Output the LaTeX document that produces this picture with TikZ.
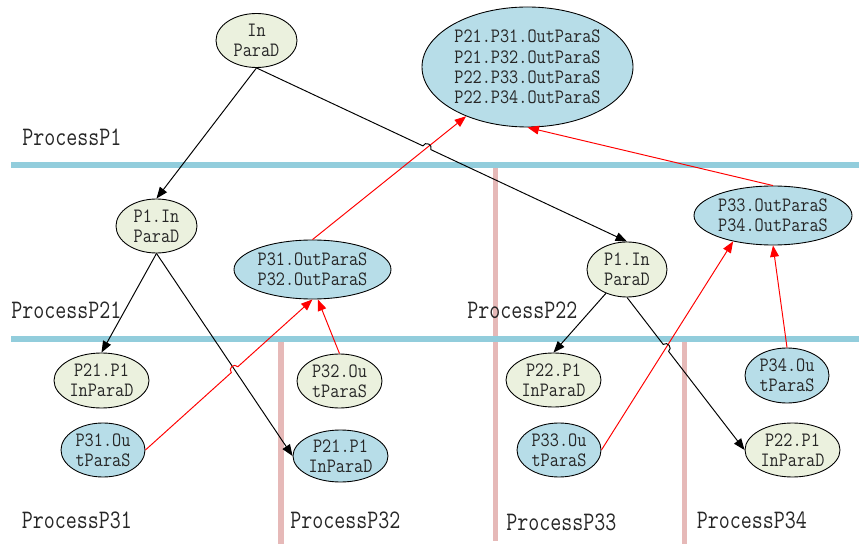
\documentclass[tikz,border=0pt]{standalone}
\usepackage{fontspec}
\usetikzlibrary{arrows.meta,shapes.geometric,calc,intersections}
\newfontfamily\parafont[FakeStretch=0.87]{Latin Modern Mono}
\newfontfamily\lanefont[FakeStretch=0.8]{Latin Modern Mono}
\definecolor{inpgreen}{HTML}{EBF1DE}
\definecolor{outblue}{HTML}{B7DDE8}
\definecolor{laneblue}{HTML}{92CDDC}
\definecolor{lanepink}{HTML}{E6B9B8}
\definecolor{txtgray}{HTML}{262626}

\tikzset{
  para/.style={ellipse,draw=black,line width=0.5pt,inner sep=0pt,align=center,
    text=txtgray,font=\parafont\fontsize{11.6}{11.6}\selectfont},
  parain/.style={para,fill=inpgreen},
  paraout/.style={para,fill=outblue},
  lane/.style={text=txtgray,font=\lanefont\fontsize{15.2}{16}\selectfont,
    anchor=west,inner sep=0pt},
  dflow/.style={black,line width=0.55pt,-{Triangle[length=6.5pt,width=5pt]}},
  sflow/.style={red,line width=0.55pt,-{Triangle[length=6.5pt,width=5pt]}},
  hop/.style={bend left=90,looseness=1.6}
}

\begin{document}
\begin{tikzpicture}[x=1cm,y=1cm]
  \useasboundingbox (0,0) rectangle (17.18,10.88);

  % --- swimlane separators ---
  \fill[lanepink] (9.86,0.06) rectangle (9.96,7.52);
  \fill[lanepink] (5.56,0)    rectangle (5.68,4.04);
  \fill[lanepink] (13.64,0)   rectangle (13.74,4.04);
  \fill[laneblue] (0.22,7.52) rectangle (17.18,7.64);
  \fill[laneblue] (0.22,4.04) rectangle (17.18,4.16);

  % --- lane titles ---
  \node[lane] (tP1)  at (0.44,8.14)  {ProcessP1};
  \node[lane] (tP21) at (0.22,4.68)  {ProcessP21};
  \node[lane] (tP22) at (9.34,4.68)  {ProcessP22};
  \node[lane] (tP31) at (0.43,0.48)  {ProcessP31};
  \node[lane] (tP32) at (5.80,0.48)  {ProcessP32};
  \node[lane] (tP33) at (10.12,0.44) {ProcessP33};
  \node[lane] (tP34) at (13.93,0.48) {ProcessP34};

  % --- parameters ---
  \node[parain,minimum width=1.62cm,minimum height=1.08cm] (ipd) at (5.13,10.07) {In\\ParaD};
  \node[paraout,minimum width=4.22cm,minimum height=2.40cm] (big) at (10.55,9.54)
        {P21.P31.OutParaS\\P21.P32.OutParaS\\P22.P33.OutParaS\\P22.P34.OutParaS};

  \node[parain,minimum width=1.62cm,minimum height=1.08cm] (p1l) at (3.13,6.36) {P1.In\\ParaD};
  \node[paraout,minimum width=3.14cm,minimum height=1.18cm] (o3132) at (6.25,5.49)
        {P31.OutParaS\\P32.OutParaS};
  \node[parain,minimum width=1.60cm,minimum height=1.10cm] (p1r) at (12.54,5.49) {P1.In\\ParaD};
  \node[paraout,minimum width=3.16cm,minimum height=1.18cm] (o3334) at (15.46,6.57)
        {P33.OutParaS\\P34.OutParaS};

  \node[parain,minimum width=1.90cm,minimum height=1.10cm]  (in31) at (2.03,3.27)  {P21.P1\\InParaD};
  \node[paraout,minimum width=1.68cm,minimum height=1.08cm] (o31)  at (2.06,1.88)  {P31.Ou\\tParaS};
  \node[parain,minimum width=1.70cm,minimum height=1.08cm]  (o32)  at (6.79,3.26)  {P32.Ou\\tParaS};
  \node[paraout,minimum width=1.90cm,minimum height=1.04cm] (in32) at (6.81,1.76)  {P21.P1\\InParaD};
  \node[parain,minimum width=1.90cm,minimum height=1.08cm]  (in33) at (11.07,3.28) {P22.P1\\InParaD};
  \node[paraout,minimum width=1.68cm,minimum height=1.08cm] (o33)  at (11.18,1.88) {P33.Ou\\tParaS};
  \node[paraout,minimum width=1.68cm,minimum height=1.10cm] (o34)  at (15.74,3.37) {P34.Ou\\tParaS};
  \node[parain,minimum width=1.90cm,minimum height=1.08cm]  (in34) at (15.85,1.88) {P22.P1\\InParaD};

  % --- output collection (red) ---
  \draw[sflow,name path=sA] (o3132.north) -- (big);
  \draw[sflow] (o3334.north) -- (big.south);
  \draw[sflow] (o32.north) -- (o3132.-80);
  \draw[sflow,name path=sC] (o33.east) -- (o3334.213);
  \draw[sflow] (o34.north) -- (o3334.south);

  % --- input distribution (black) ---
  \draw[dflow] (ipd.south) -- (p1l.north);
  \draw[dflow] (p1l.south) -- (in31.north);
  \draw[dflow,name path=dB] (p1l.south) -- (in32.west);
  \draw[dflow] (p1r) -- (in33.north);

  % --- crossings with line hops ---
  \path[name path=dA] (ipd.south) -- (p1r.north);
  \path[name intersections={of=sA and dA,by=hA}];
  \draw[dflow] (ipd.south) -- ($(hA)!2.5pt!(ipd.south)$)
        to[hop] ($(hA)!2.5pt!(p1r.north)$) -- (p1r.north);

  \path[name path=sB] (o31.east) -- (o3132.south);
  \path[name intersections={of=sB and dB,by=hB}];
  \draw[sflow] (o31.east) -- ($(hB)!2.5pt!(o31.east)$)
        to[hop] ($(hB)!2.5pt!(o3132.south)$) -- (o3132.south);

  \path[name path=dC] (p1r.south) -- (in34.west);
  \path[name intersections={of=sC and dC,by=hC}];
  \draw[dflow] (p1r.south) -- ($(hC)!2.5pt!(p1r.south)$)
        to[hop] ($(hC)!2.5pt!(in34.west)$) -- (in34.west);

\end{tikzpicture}
\end{document}
